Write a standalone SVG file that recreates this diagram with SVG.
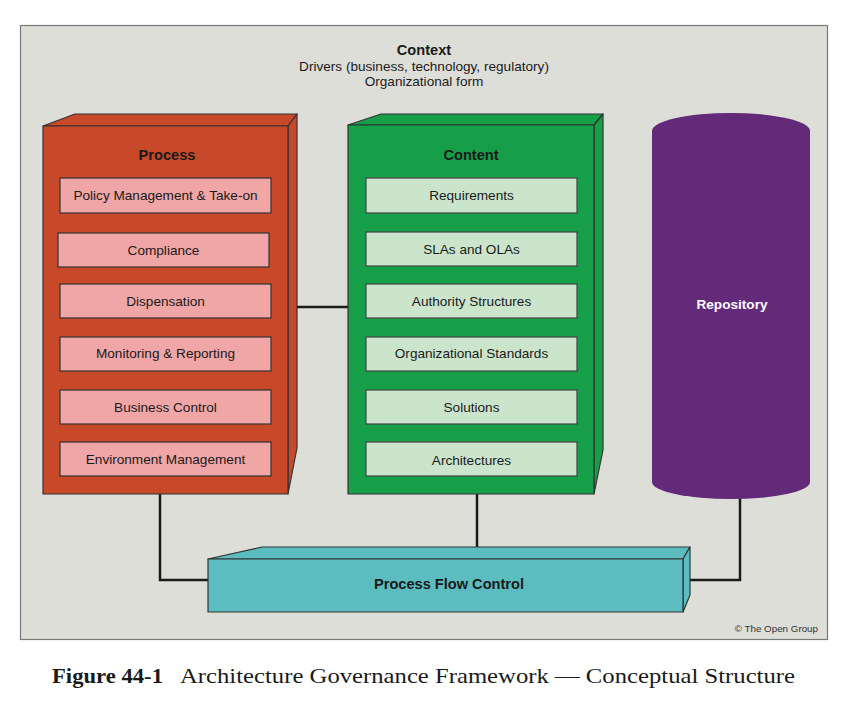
<svg xmlns="http://www.w3.org/2000/svg" width="849" height="715" viewBox="0 0 849 715">
<style>
text{font-family:"Liberation Sans",Arial,sans-serif;fill:#1a1a1a}
.t{font-size:13.6px;text-anchor:middle}
.h{font-size:14.6px;font-weight:bold}
.b{font-weight:bold}
.edge{stroke:#333;stroke-width:1.2;stroke-linejoin:round}
.pin{fill:#F0A6A6;stroke:#333;stroke-width:1.2}
.cin{fill:#CBE5CC;stroke:#444;stroke-width:1.2}
.conn{fill:none;stroke:#1a1a1a;stroke-width:2.5}
.cap{font-family:"Liberation Serif","Times New Roman",serif;font-size:22px}
</style>
<rect width="849" height="715" fill="#ffffff"/>
<rect x="20.5" y="25.5" width="807" height="614" fill="#DEDED9" stroke="#777" stroke-width="1.2"/>
<g id="context">
<text class="t h" x="424" y="55">Context</text>
<text class="t" x="424" y="71">Drivers (business, technology, regulatory)</text>
<text class="t" x="424" y="86">Organizational form</text>
</g>
<g id="connectors">
<path class="conn" d="M297 307 H348"/>
<path class="conn" d="M160 494 V580 H208"/>
<path class="conn" d="M477 494 V548"/>
<path class="conn" d="M740 498 V580 H690"/>
</g>
<g id="process">
<polygon class="edge" fill="#C8492A" points="43,126 75,114 297,114 288,126"/>
<polygon class="edge" fill="#C8492A" points="288,126 297,114 297,448 288,494"/>
<rect class="edge" fill="#C8492A" x="43" y="126" width="245" height="368"/>
<text class="t h" x="167" y="160">Process</text>
<rect class="pin" x="60" y="178" width="211" height="35"/>
<text class="t" x="165.5" y="200">Policy Management &amp; Take-on</text>
<rect class="pin" x="58" y="233" width="211" height="34"/>
<text class="t" x="163.5" y="255">Compliance</text>
<rect class="pin" x="60" y="284" width="211" height="34"/>
<text class="t" x="165.5" y="306">Dispensation</text>
<rect class="pin" x="60" y="337" width="211" height="34"/>
<text class="t" x="165.5" y="358">Monitoring &amp; Reporting</text>
<rect class="pin" x="60" y="390" width="211" height="34"/>
<text class="t" x="165.5" y="412">Business Control</text>
<rect class="pin" x="60" y="442" width="211" height="34"/>
<text class="t" x="165.5" y="464">Environment Management</text>
</g>
<g id="content">
<polygon class="edge" fill="#179E48" points="348,125 381,114 603,114 594,125"/>
<polygon class="edge" fill="#179E48" points="594,125 603,114 603,450 594,494"/>
<rect class="edge" fill="#179E48" x="348" y="125" width="246" height="369"/>
<text class="t h" x="471" y="160">Content</text>
<rect class="cin" x="366" y="178" width="211" height="35"/>
<text class="t" x="471.5" y="200">Requirements</text>
<rect class="cin" x="366" y="232" width="211" height="34"/>
<text class="t" x="471.5" y="254">SLAs and OLAs</text>
<rect class="cin" x="366" y="284" width="211" height="34"/>
<text class="t" x="471.5" y="306">Authority Structures</text>
<rect class="cin" x="366" y="337" width="211" height="34"/>
<text class="t" x="471.5" y="358">Organizational Standards</text>
<rect class="cin" x="366" y="390" width="211" height="34"/>
<text class="t" x="471.5" y="412">Solutions</text>
<rect class="cin" x="366" y="442" width="211" height="34"/>
<text class="t" x="471.5" y="465">Architectures</text>
</g>
<g id="repository">
<path fill="#632A7A" d="M652 131 A79 18 0 0 1 810 131 V482 A79 17 0 0 1 652 482 Z"/>
<text class="t b" x="732" y="309" style="fill:#ffffff">Repository</text>
</g>
<g id="process-flow-control">
<polygon class="edge" fill="#5BBDC0" points="208,559 262,547 690,547 683,559"/>
<polygon class="edge" fill="#5BBDC0" points="683,559 690,547 690,595 683,612"/>
<rect class="edge" fill="#5BBDC0" x="208" y="559" width="475" height="53"/>
<text class="t h" x="449" y="589">Process Flow Control</text>
</g>
<text x="818" y="632" style="font-size:9.8px;text-anchor:end;fill:#333">© The Open Group</text>
<text class="cap b" x="52" y="683" textLength="111" lengthAdjust="spacingAndGlyphs">Figure 44-1</text>
<text class="cap" x="180" y="683" textLength="615" lengthAdjust="spacingAndGlyphs">Architecture Governance Framework — Conceptual Structure</text>
</svg>
